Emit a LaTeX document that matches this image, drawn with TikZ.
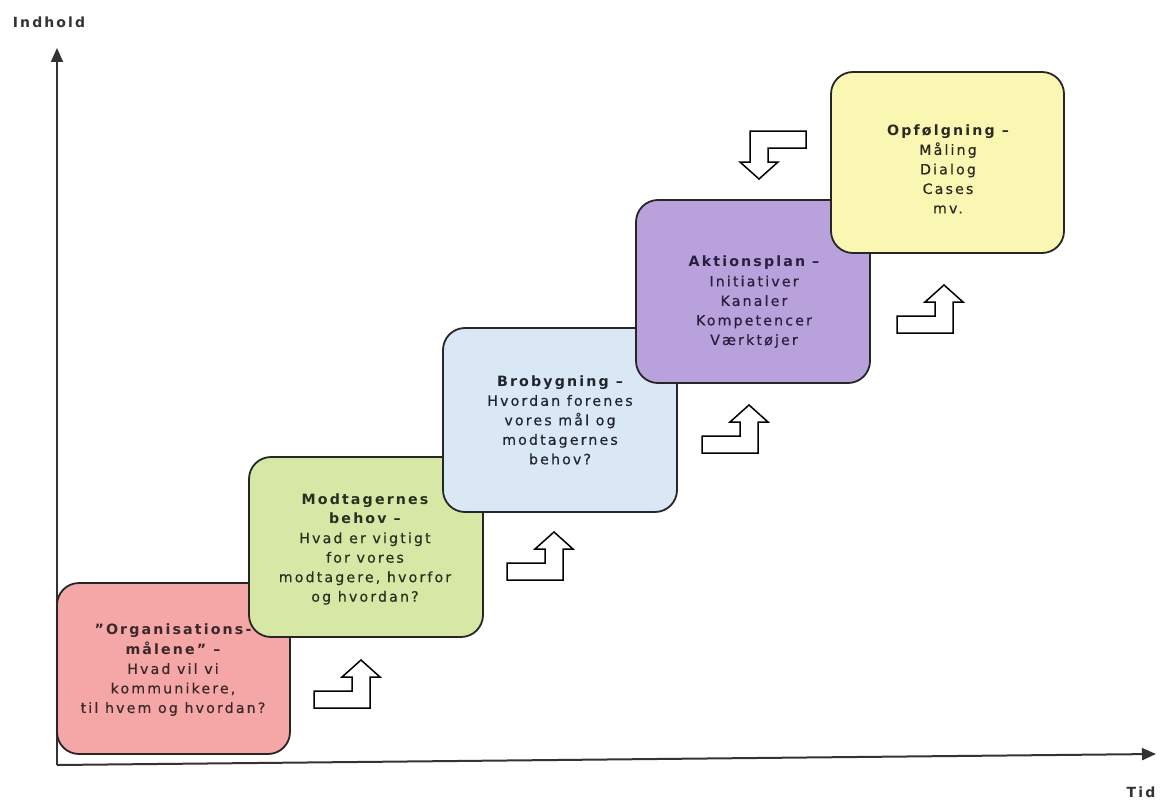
\documentclass[tikz,border=0pt]{standalone}
\usepackage{fontspec}
\setmainfont{DejaVu Sans}[LetterSpace=15, UprightFeatures={FakeBold=0.35}]
\usetikzlibrary{arrows.meta}
\definecolor{redfill}{HTML}{F5A6A6}
\definecolor{greenfill}{HTML}{D7E7A6}
\definecolor{bluefill}{HTML}{DAE7F5}
\definecolor{purplefill}{HTML}{B9A2DB}
\definecolor{yellowfill}{HTML}{FAF7B3}
\definecolor{boxline}{HTML}{262626}
\definecolor{axisgray}{HTML}{333333}
\definecolor{txtred}{HTML}{3A2828}
\definecolor{txtgreen}{HTML}{2A2E1E}
\definecolor{txtblue}{HTML}{20242C}
\definecolor{txtpurple}{HTML}{281F3E}
\definecolor{txtyellow}{HTML}{2C2A20}
\tikzset{
  box/.style={draw=boxline, line width=1.8pt, rounded corners=22pt, inner sep=0pt},
  boxtext/.style={align=center, font=\fontsize{14.2}{19.5}\selectfont, inner sep=0pt},
  axislabel/.style={font=\fontsize{14}{16}\selectfont\bfseries, text=axisgray, inner sep=0pt},
  axisline/.style={draw=axisgray, line width=2pt, -{Triangle[length=14pt,width=12pt]}},
  bentline/.style={draw=black, line width=1.5pt, fill=white, line join=miter},
  bent/.pic={\draw[bentline] (0,0) -- (56,0) -- (56,-31) -- (66,-31) -- (47,-48)
      -- (28,-31) -- (38,-31) -- (38,-17) -- (0,-17) -- cycle;}
}
\begin{document}
\begin{tikzpicture}[x=1pt,y=-1pt]
\useasboundingbox[fill=white] (0,0) rectangle (1160,800);

% axes
\coordinate (O) at (57,765);
\coordinate (ytip) at (57,48);
\coordinate (xtip) at (1156,754);
\draw[axisline] (O) -- (ytip);
\draw[axisline] (O) -- (xtip);
\node[axislabel] (indhold) at (49,22) {Indhold};
\node[axislabel, anchor=base] (tid) at (1141,797) {Tid};

% boxes
\node[box, fill=redfill, minimum width=233pt, minimum height=171pt] (org) at (173.5,668.5) {};
\node[boxtext, text=txtred] (orgtxt) at (173,670) {{\bfseries "Organisations-}\\{\bfseries målene" –}\\Hvad vil vi\\kommunikere,\\til hvem og hvordan?};

\node[box, fill=greenfill, minimum width=234pt, minimum height=180pt] (modt) at (366,547) {};
\node[boxtext, text=txtgreen] (modttxt) at (365,549) {{\bfseries Modtagernes}\\{\bfseries behov –}\\Hvad er vigtigt\\for vores\\modtagere, hvorfor\\og hvordan?};

\node[box, fill=bluefill, minimum width=234pt, minimum height=184pt] (bro) at (560,420) {};
\node[boxtext, text=txtblue] (brotxt) at (560,420) {{\bfseries Brobygning –}\\Hvordan forenes\\vores mål og\\modtagernes\\behov?};

\node[box, fill=purplefill, minimum width=234pt, minimum height=183pt] (akt) at (753,291.5) {};
\node[boxtext, text=txtpurple] (akttxt) at (754,302) {{\bfseries Aktionsplan –}\\Initiativer\\Kanaler\\Kompetencer\\Værktøjer};

\node[box, fill=yellowfill, minimum width=233pt, minimum height=181pt] (opf) at (947.5,162.5) {};
\node[boxtext, text=txtyellow] (opftxt) at (948,169) {{\bfseries Opfølgning –}\\Måling\\Dialog\\Cases\\mv.};

% bent arrows
\pic (a1) at (314,708) {bent};
\pic (a2) at (507,580) {bent};
\pic (a3) at (702,453) {bent};
\pic (a4) at (897,333) {bent};
\pic[rotate=180] (a5) at (806,131) {bent};
\end{tikzpicture}
\end{document}
